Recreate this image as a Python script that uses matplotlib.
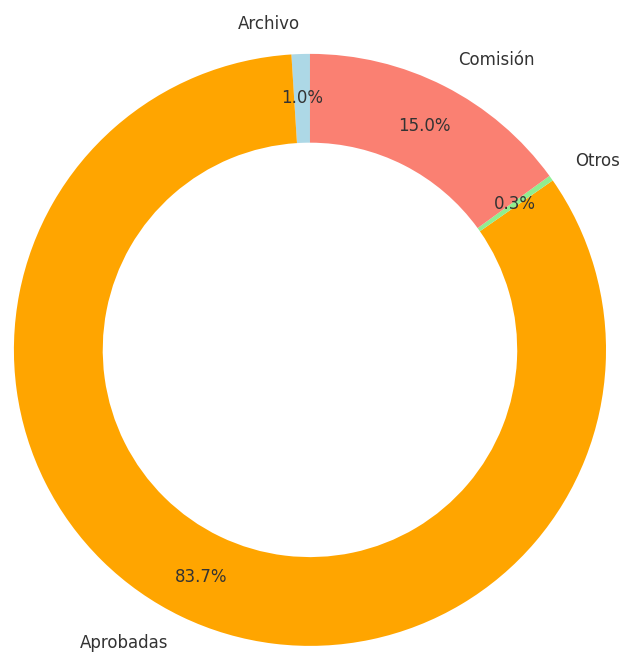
import matplotlib
matplotlib.use("Agg")
import matplotlib.pyplot as plt

# datos del gráfico
labels = ["Archivo", "Aprobadas", "Otros", "Comisión"]
values = [1.0, 83.7, 0.3, 15.0]
colors = ["lightblue", "orange", "lightgreen", "salmon"]

fig = plt.figure(figsize=(6.22, 6.53), dpi=100)
ax = fig.add_axes([0, 0, 1, 1])

wedges, texts, autotexts = ax.pie(
    values, labels=labels, colors=colors, autopct="%1.1f%%",
    startangle=90, pctdistance=0.85, labeldistance=1.1,
    wedgeprops=dict(width=0.3), textprops=dict(fontsize=12, color="#333333"),
)

ax.set_xlim(-1.047, 1.054)
ax.set_ylim(-1.024, 1.182)
ax.set_aspect("auto")
ax.axis("off")

fig.savefig("out.png", dpi=100)
